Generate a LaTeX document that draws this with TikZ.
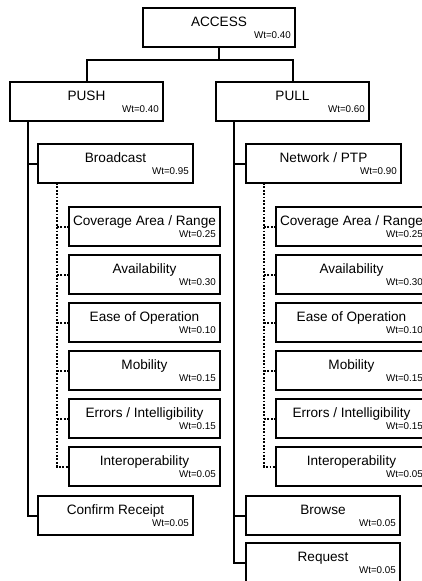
\documentclass[tikz,border=0pt]{standalone}
\usepackage{fontspec}
\setmainfont{Liberation Sans}
\tikzset{
 wbox/.style={draw, line width=2pt, minimum height=39pt, inner sep=0pt, outer sep=0pt, anchor=north west},
 ttl/.style={font=\fontsize{13.6}{16}\selectfont, anchor=base, inner sep=0pt},
 wt/.style={font=\fontsize{9.8}{11}\selectfont, anchor=base east, inner sep=0pt},
 conn/.style={line width=2pt},
 dconn/.style={line width=2pt, dash pattern=on 1.8pt off 1.6pt},
}
\newcommand\wbox[6]{%
 \node[wbox, minimum width=#4pt] (#1) at (#2,#3) {};
 \node[ttl] (#1-t) at ([yshift=-18.5pt]#1.north) {#5};
 \node[wt] (#1-w) at ([xshift=-4pt,yshift=8.5pt]#1.south east) {#6};
}
\begin{document}
\begin{tikzpicture}[x=1pt,y=-1pt]
\clip (0,0) rectangle (422,581);
\fill[white] (0,0) rectangle (422,581);
\wbox{access}{143}{8}{152}{ACCESS}{Wt=0.40}
\wbox{push}{10}{82}{153}{PUSH}{Wt=0.40}
\wbox{pull}{216}{82}{153}{PULL}{Wt=0.60}
\wbox{bc}{38}{144}{155}{Broadcast}{Wt=0.95}
\wbox{net}{246}{144}{155}{Network / PTP}{Wt=0.90}
\wbox{l1}{69}{207}{151}{Coverage Area / Range}{Wt=0.25}
\wbox{l2}{69}{255}{151}{Availability}{Wt=0.30}
\wbox{l3}{69}{303}{151}{Ease of Operation}{Wt=0.10}
\wbox{l4}{69}{351}{151}{Mobility}{Wt=0.15}
\wbox{l5}{69}{399}{151}{Errors / Intelligibility}{Wt=0.15}
\wbox{l6}{69}{447}{151}{Interoperability}{Wt=0.05}
\wbox{r1}{276}{207}{151}{Coverage Area / Range}{Wt=0.25}
\wbox{r2}{276}{255}{151}{Availability}{Wt=0.30}
\wbox{r3}{276}{303}{151}{Ease of Operation}{Wt=0.10}
\wbox{r4}{276}{351}{151}{Mobility}{Wt=0.15}
\wbox{r5}{276}{399}{151}{Errors / Intelligibility}{Wt=0.15}
\wbox{r6}{276}{447}{151}{Interoperability}{Wt=0.05}
\wbox{confirm}{38}{496}{155}{Confirm Receipt}{Wt=0.05}
\wbox{browse}{246}{496}{154}{Browse}{Wt=0.05}
\wbox{request}{246}{543}{154}{Request}{Wt=0.05}
% top connectors
\coordinate (hub) at ([yshift=-13pt]access.south);
\draw[conn] (access.south) -- (hub);
\draw[conn] (push.north) |- (hub) -| (pull.north);
% push trunk
\coordinate (pt) at ([xshift=18pt]push.south west);
\draw[conn] (pt) |- (confirm.west);
\draw[conn] (bc.west) -- (bc.west -| pt);
% pull trunk
\coordinate (qt) at ([xshift=18pt]pull.south west);
\draw[conn] (qt) |- (request.west);
\draw[conn] (net.west) -- (net.west -| qt);
\draw[conn] (browse.west) -- (browse.west -| qt);
% dotted sub-branches
\coordinate (bd) at ([xshift=19pt]bc.south west);
\draw[dconn] (bd) |- (l6.west);
\foreach \k in {1,...,5}{\draw[dconn] (l\k.west) -- (l\k.west -| bd);}
\coordinate (nd) at ([xshift=18pt]net.south west);
\draw[dconn] (nd) |- (r6.west);
\foreach \k in {1,...,5}{\draw[dconn] (r\k.west) -- (r\k.west -| nd);}
\end{tikzpicture}
\end{document}
